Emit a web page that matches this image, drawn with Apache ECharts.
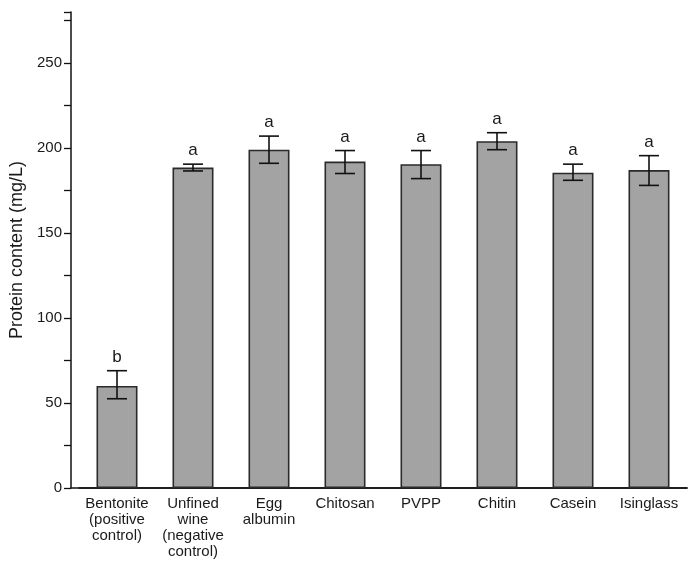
<!DOCTYPE html>
<html>
<head>
<meta charset="utf-8">
<script src="https://cdn.jsdelivr.net/npm/echarts@6/dist/echarts.min.js"></script>
<style>
  html, body { margin: 0; padding: 0; background: #fff; }
</style>
</head>
<body>
<div id="chart" style="width: 689px; height: 561px;"></div>
<script>
  var categories = ['Bentonite\n(positive\ncontrol)', 'Unfined\nwine\n(negative\ncontrol)', 'Egg\nalbumin',
                    'Chitosan', 'PVPP', 'Chitin', 'Casein', 'Isinglass'];
  var protein = [60, 188.5, 199, 192, 190.5, 204, 185.5, 187];
  var errLow = [52.5, 186.5, 191, 185, 182, 199, 181, 178];
  var errHigh = [69, 190.5, 207, 198.5, 198.5, 209, 190.5, 195.5];
  var letters = ['b', 'a', 'a', 'a', 'a', 'a', 'a', 'a'];

  var errData = protein.map(function (v, i) {
    return [i, errLow[i], errHigh[i]];
  });

  var font = 'Liberation Sans, Arial, sans-serif';
  var myChart = echarts.init(document.getElementById('chart'));

  var option = {
    animation: false,
    textStyle: { fontFamily: font },
    grid: [
      { left: 79, right: 2, top: 12, bottom: 73 },
      // only used to run the bottom axis line back to the y axis
      { left: 71, right: 2, top: 12, bottom: 73 }
    ],
    xAxis: [{
      type: 'category',
      data: categories,
      gridIndex: 0,
      axisLine: { lineStyle: { color: '#111', width: 1.5 } },
      axisTick: { alignWithLabel: true, length: 5, lineStyle: { color: '#111', width: 1.3 } },
      axisLabel: { color: '#1a1a1a', fontSize: 15, lineHeight: 16, interval: 0, margin: 8 }
    }, {
      type: 'value',
      gridIndex: 1,
      axisLine: { show: true, lineStyle: { color: '#111', width: 1.5 } },
      axisTick: { show: false },
      axisLabel: { show: false },
      splitLine: { show: false }
    }],
    yAxis: [{
      type: 'value',
      gridIndex: 0,
      min: 0,
      max: 280,
      interval: 25,
      offset: 8,
      name: 'Protein content (mg/L)',
      nameLocation: 'middle',
      nameGap: 41,
      nameTextStyle: { color: '#1a1a1a', fontSize: 18 },
      axisLine: { show: true, lineStyle: { color: '#111', width: 1.5 } },
      axisTick: { show: true, length: 7, lineStyle: { color: '#111', width: 1.3 } },
      axisLabel: {
        color: '#1a1a1a', fontSize: 15, margin: 9,
        formatter: function (v) { return v % 50 === 0 ? String(v) : ''; }
      },
      splitLine: { show: false }
    }, {
      type: 'value',
      gridIndex: 1,
      show: false
    }],
    series: [{
      type: 'bar',
      data: protein,
      barWidth: 41,
      itemStyle: { color: '#a3a3a3', borderColor: '#2a2a2a', borderWidth: 1.6 }
    }, {
      type: 'custom',
      data: errData,
      z: 10,
      renderItem: function (params, api) {
        var lo = api.coord([api.value(0), api.value(1)]);
        var hi = api.coord([api.value(0), api.value(2)]);
        var cap = 10;
        var style = { stroke: '#111', lineWidth: 1.6 };
        return {
          type: 'group',
          children: [
            { type: 'line', shape: { x1: hi[0], y1: hi[1], x2: lo[0], y2: lo[1] }, style: style },
            { type: 'line', shape: { x1: hi[0] - cap, y1: hi[1], x2: hi[0] + cap, y2: hi[1] }, style: style },
            { type: 'line', shape: { x1: lo[0] - cap, y1: lo[1], x2: lo[0] + cap, y2: lo[1] }, style: style },
            { type: 'text', x: hi[0], y: hi[1] - 5,
              style: { text: letters[params.dataIndex], fill: '#1a1a1a', fontSize: 17,
                       fontFamily: font, align: 'center', verticalAlign: 'bottom' } }
          ]
        };
      }
    }]
  };

  myChart.setOption(option);
</script>
</body>
</html>
